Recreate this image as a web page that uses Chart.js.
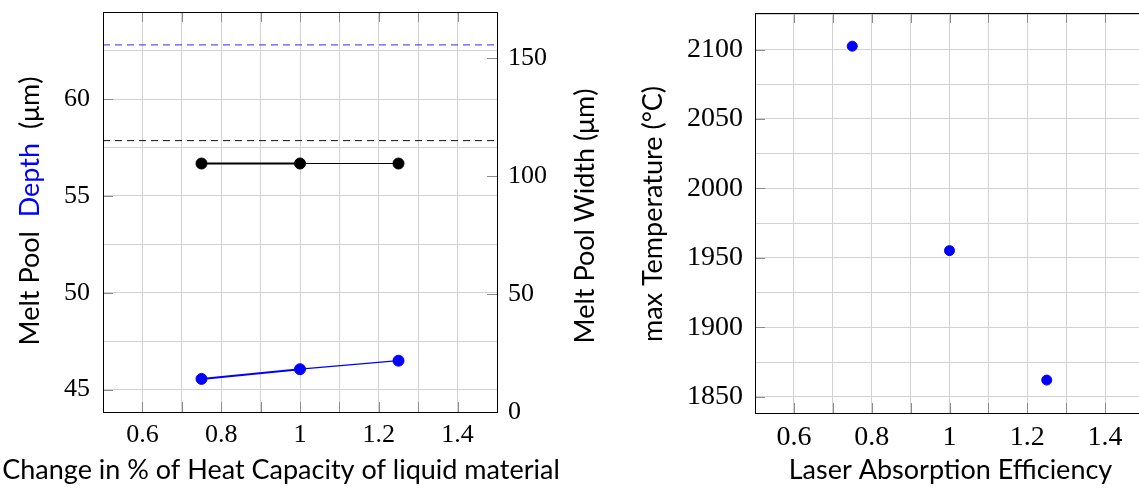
<html>
  <head>
    <script src="https://cdn.jsdelivr.net/npm/chart.js@4.4.0/dist/chart.umd.min.js"></script>
    <style>
      body { margin: 0; overflow: hidden; background: #fff; width: 1139px; height: 488px; position: relative; }
      canvas { position: absolute; top: 0; }
    </style>
  </head>
  <body>
    <canvas id="left" width="600" height="488" style="left: 0"></canvas>
    <canvas id="right" width="540" height="488" style="left: 610px"></canvas>

    <script>
      // left plot: heat capacity study
      const heatCapacity = [0.75, 1, 1.25];
      const meltPoolDepth = [45.55, 46.05, 46.49];
      const meltPoolWidth = [105.3, 105.3, 105.3];
      const expDepth = 62.8;   // dashed blue reference (left axis)
      const expWidth = 115;    // dashed black reference (right axis)

      // right plot: laser absorption study
      const absorption = [0.75, 1, 1.25];
      const maxTemperature = [2102.4, 1955.2, 1862];

      // ticks
      const xGrid = [0.5, 0.6, 0.7, 0.8, 0.9, 1, 1.1, 1.2, 1.3, 1.4, 1.5];
      const xLabels = [0.6, 0.8, 1, 1.2, 1.4];
      const depthGrid = [45, 47.5, 50, 52.5, 55, 57.5, 60, 62.5];
      const depthLabels = [45, 50, 55, 60];
      const widthTicks = [0, 50, 100, 150];
      const tempGrid = [1850, 1875, 1900, 1925, 1950, 1975, 2000, 2025, 2050, 2075, 2100, 2125];
      const tempLabels = [1850, 1900, 1950, 2000, 2050, 2100];

      const SERIF = "'Liberation Serif', 'DejaVu Serif', serif";
      const SANS = "Lato, 'Noto Sans', sans-serif";
      const GRID = "#d2d2d2";

      const has = (arr, v) => arr.some((a) => Math.abs(a - v) < 1e-6);
      const setTicks = (arr) => (scale) => {
        scale.ticks = arr.map((v) => ({ value: v }));
      };
      // fixed axis box, no extra label overhang padding
      const fitTo = (prop, size) => (s) => {
        s[prop] = size;
        s.paddingTop = s.paddingBottom = s.paddingLeft = s.paddingRight = 0;
      };

      // frame, inward tick marks and hand placed axis titles (pgfplots look)
      const framePlugin = {
        id: "frame",
        afterDraw(chart, args, opts) {
          const { ctx, chartArea: a, scales } = chart;
          ctx.save();
          ctx.strokeStyle = "#8c8c8c";
          ctx.lineWidth = 1;
          ctx.beginPath();
          scales.x.ticks.forEach((t) => {
            const x = Math.round(scales.x.getPixelForValue(t.value)) + 0.5;
            ctx.moveTo(x, a.bottom);
            ctx.lineTo(x, a.bottom - 10);
            ctx.moveTo(x, a.top);
            ctx.lineTo(x, a.top + 10);
          });
          (opts.yMajor || []).forEach(([id, vals, side]) => {
            vals.forEach((v) => {
              const y = Math.round(scales[id].getPixelForValue(v)) + 0.5;
              const x0 = side === "right" ? a.right : a.left;
              const d = side === "right" ? -10 : 10;
              ctx.moveTo(x0, y);
              ctx.lineTo(x0 + d, y);
            });
          });
          ctx.stroke();
          ctx.strokeStyle = "#000";
          ctx.strokeRect(
            Math.round(a.left) + 0.5,
            Math.round(a.top) + 0.5,
            Math.round(a.right - a.left),
            Math.round(a.bottom - a.top)
          );
          ctx.restore();

          (opts.titles || []).forEach((t) => {
            ctx.save();
            ctx.font = "27px " + SANS;
            ctx.textBaseline = "middle";
            const total = t.parts.reduce((s, p) => s + ctx.measureText(p[0]).width, 0);
            ctx.translate(t.x, t.y);
            if (t.vertical) ctx.rotate(-Math.PI / 2);
            let cx = -total / 2;
            t.parts.forEach(([txt, col]) => {
              ctx.fillStyle = col;
              ctx.fillText(txt, cx, 0);
              cx += ctx.measureText(txt).width;
            });
            ctx.restore();
          });
        },
      };

      const xScale = (font, height) => ({
        type: "linear",
        min: 0.5,
        max: 1.5,
        afterBuildTicks: setTicks(xGrid),
        afterFit: fitTo("height", height),
        grid: { color: GRID, drawTicks: false },
        border: { display: false },
        ticks: {
          autoSkip: false,
          maxRotation: 0,
          padding: 8,
          color: "#000",
          font: { family: SERIF, size: font },
          callback: (v) => (has(xLabels, v) ? String(v) : ""),
        },
      });

      new Chart(document.getElementById("left"), {
        type: "line",
        data: {
          datasets: [
            {
              label: "Depth",
              data: heatCapacity.map((x, i) => ({ x: x, y: meltPoolDepth[i] })),
              yAxisID: "y",
              borderColor: "#0000ff",
              backgroundColor: "#0000ff",
              pointRadius: 5.5,
              segment: { borderWidth: (c) => (c.p0DataIndex === 0 ? 2 : 1.2) },
            },
            {
              label: "Width",
              data: heatCapacity.map((x, i) => ({ x: x, y: meltPoolWidth[i] })),
              yAxisID: "y1",
              borderColor: "#000",
              backgroundColor: "#000",
              pointRadius: 5.5,
              segment: { borderWidth: (c) => (c.p0DataIndex === 0 ? 2.2 : 1) },
            },
            {
              label: "Depth (exp)",
              data: [{ x: 0.5, y: expDepth }, { x: 1.5, y: expDepth }],
              yAxisID: "y",
              borderColor: "#2b2bff",
              borderWidth: 1,
              borderDash: [7, 5],
              pointRadius: 0,
            },
            {
              label: "Width (exp)",
              data: [{ x: 0.5, y: expWidth }, { x: 1.5, y: expWidth }],
              yAxisID: "y1",
              borderColor: "#111",
              borderWidth: 1,
              borderDash: [7, 5],
              pointRadius: 0,
            },
          ],
        },
        options: {
          responsive: false,
          animation: false,
          layout: { padding: { top: 12, left: 0, right: 0, bottom: 0 } },
          plugins: {
            legend: { display: false },
            tooltip: { enabled: false },
            frame: {
              yMajor: [["y", depthLabels, "left"], ["y1", widthTicks, "right"]],
              titles: [
                {
                  x: 30, y: 211, vertical: true,
                  parts: [["Melt Pool  ", "#000"], ["Depth", "#0000ff"], ["  (μm)", "#000"]],
                },
                { x: 585, y: 216, vertical: true, parts: [["Melt Pool Width (μm)", "#000"]] },
                { x: 281, y: 470, parts: [["Change in % of Heat Capacity of liquid material", "#000"]] },
              ],
            },
          },
          scales: {
            x: xScale(26, 76),
            y: {
              type: "linear",
              position: "left",
              min: 43.84,
              max: 64.5,
              afterBuildTicks: setTicks(depthGrid),
              afterFit: fitTo("width", 103),
              grid: { color: GRID, drawTicks: false },
              border: { display: false },
              ticks: {
                autoSkip: false,
                padding: 13,
                color: "#000",
                font: { family: SERIF, size: 26 },
                callback: (v) => (has(depthLabels, v) ? String(v) : ""),
              },
            },
            y1: {
              type: "linear",
              position: "right",
              min: 0,
              max: 169.5,
              afterBuildTicks: setTicks(widthTicks),
              afterFit: fitTo("width", 103),
              grid: { display: false, drawTicks: false },
              border: { display: false },
              ticks: {
                autoSkip: false,
                padding: 11,
                color: "#000",
                font: { family: SERIF, size: 26 },
              },
            },
          },
        },
        plugins: [framePlugin],
      });

      new Chart(document.getElementById("right"), {
        type: "scatter",
        data: {
          datasets: [
            {
              label: "max Temperature",
              data: absorption.map((x, i) => ({ x: x, y: maxTemperature[i] })),
              borderColor: "#0000ff",
              backgroundColor: "#0000ff",
              pointRadius: 5,
            },
          ],
        },
        options: {
          responsive: false,
          animation: false,
          layout: { padding: { top: 13, left: 0, right: 2, bottom: 0 } },
          plugins: {
            legend: { display: false },
            tooltip: { enabled: false },
            frame: {
              yMajor: [["y", tempLabels, "left"]],
              titles: [
                { x: 43, y: 214, vertical: true, parts: [["max Temperature (°C)", "#000"]] },
                { x: 340.5, y: 470, parts: [["Laser Absorption Efficiency", "#000"]] },
              ],
            },
          },
          scales: {
            x: xScale(28, 75),
            y: {
              type: "linear",
              min: 1838.3,
              max: 2126.3,
              afterBuildTicks: setTicks(tempGrid),
              afterFit: fitTo("width", 145),
              grid: { color: GRID, drawTicks: false },
              border: { display: false },
              ticks: {
                autoSkip: false,
                padding: 12,
                color: "#000",
                font: { family: SERIF, size: 28 },
                callback: (v) => (has(tempLabels, v) ? String(v) : ""),
              },
            },
          },
        },
        plugins: [framePlugin],
      });
    </script>
  </body>
</html>
